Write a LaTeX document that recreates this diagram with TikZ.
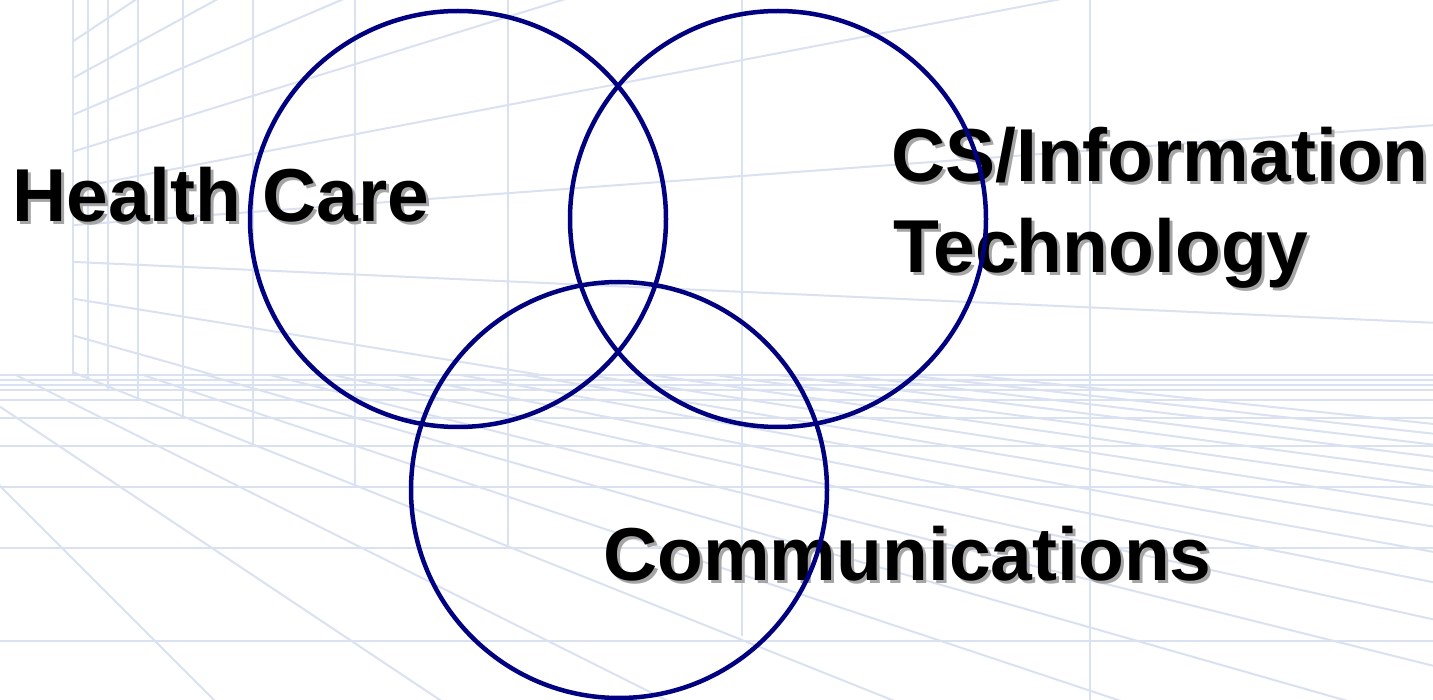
\documentclass[tikz,border=0pt]{standalone}
\usepackage{fontspec}
\setmainfont{Liberation Sans}
\usetikzlibrary{calc}
\definecolor{navyline}{RGB}{0,0,128}
\definecolor{gridblue}{RGB}{218,225,241}
\definecolor{shadowgray}{RGB}{165,165,165}
\tikzstyle{venn} = [circle, minimum size=416pt, inner sep=0pt, draw=navyline, line width=4.5pt]
\tikzstyle{field} = [inner sep=0pt, anchor=base west, font=\fontsize{75pt}{90pt}\selectfont\bfseries]
\tikzstyle{fieldshadow} = [field, text=shadowgray]
\tikzstyle{bgline} = [draw=gridblue, line width=2pt]

\begin{document}
\begin{tikzpicture}[x=1pt, y=-1pt]
            \useasboundingbox (0,0) rectangle (1433,700);
            \fill[white] (0,0) rectangle (1433,700);

            % background grid
            \begin{scope}[bgline]
                \coordinate (vp) at (-238,248);
                \foreach \x in {73,88,108,138,183,253,355,508,742,1090}
                    \draw (\x,0) -- (\x,{min(700,375+0.39*(\x-73))});
                \begin{scope}
                    \clip (73,0) rectangle (1433,375);
                    \foreach \k in {0,...,9}
                        \draw (vp) -- (1433,{248+(40+37*\k-248)*5.339});
                \end{scope}
                \begin{scope}
                    \clip (0,375) rectangle (1433,700);
                    \foreach \k in {0,...,17}
                        \draw (vp) -- (1433,{248+1671/(1+0.5*\k)});
                \end{scope}
                \foreach \y in {375,380,385,390,400,418,446,487,548,641}
                    \draw (0,\y) -- (1433,\y);
            \end{scope}

            % labels with drop shadow
            \node (health_sh) [fieldshadow] at (15,225) {Health Care};
            \node (health) [field] at (12,222) {Health Care};
            \node (cs_sh) [fieldshadow] at (894,185) {CS/Information};
            \node (cs) [field] at (891,182) {CS/Information};
            \node (tech_sh) [fieldshadow] at (896,276) {Technology};
            \node (tech) [field] at (893,273) {Technology};
            \node (comm_sh) [fieldshadow] at (606,583) {Communications};
            \node (comm) [field] at (603,580) {Communications};

            % the three fields
            \node (hc_circle) [venn] at (458,219) {};
            \node (it_circle) [venn] at (778,219) {};
            \node (comm_circle) [venn] at (619,490) {};
        \end{tikzpicture}
\end{document}
